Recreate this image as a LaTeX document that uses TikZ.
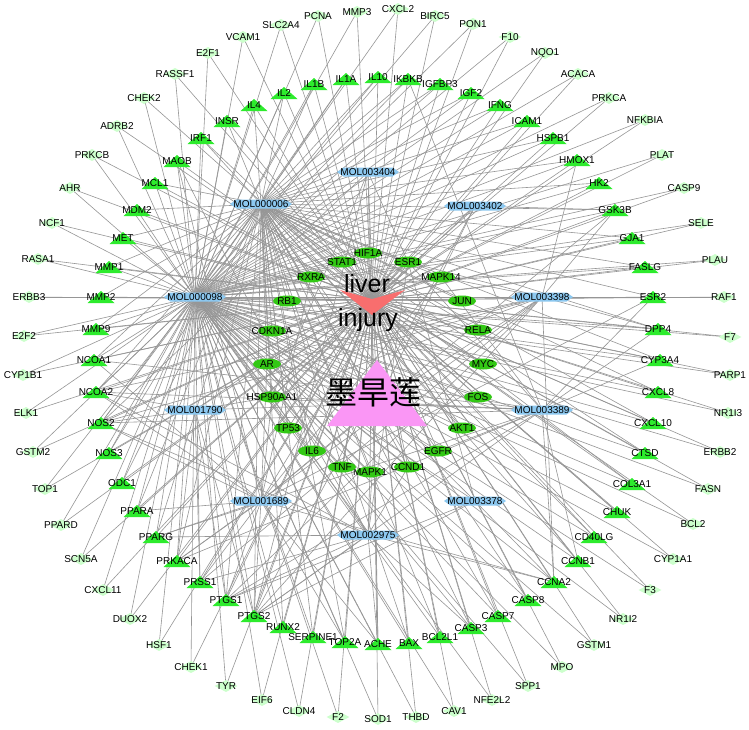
\documentclass[tikz,border=0pt]{standalone}
\usepackage{fontspec}
\setmainfont{Liberation Sans}
\newfontfamily\cjk{Noto Sans CJK SC}
\usetikzlibrary{shapes.geometric,shapes.symbols}
\definecolor{paleg}{RGB}{204,255,204}
\definecolor{trig}{RGB}{45,235,45}
\definecolor{ellg}{RGB}{50,200,20}
\definecolor{molb}{RGB}{140,200,240}
\definecolor{liverc}{RGB}{248,110,110}
\definecolor{herbc}{RGB}{250,150,245}
\definecolor{edgec}{RGB}{150,150,150}
\pgfdeclarelayer{bg}
\pgfsetlayers{bg,main}
\tikzset{
  lbl/.style={font=\fontsize{10}{12}\selectfont, text=black, inner sep=0pt},
  pale/.style={diamond, fill=paleg, minimum width=23pt, minimum height=12pt, inner sep=0pt, label={[lbl]center:#1}},
  tri/.style={rectangle, minimum width=27pt, minimum height=12pt, inner sep=0pt,
    path picture={\fill[trig] (path picture bounding box.south west) -- (path picture bounding box.south east) -- (path picture bounding box.north) -- cycle;},
    label={[lbl]center:#1}},
  ell/.style={ellipse, fill=ellg, minimum width=28pt, minimum height=11pt, inner sep=0pt, label={[lbl]center:#1}},
  mol/.style={signal, signal to=west and east, signal pointer angle=70, fill=molb, minimum width=62pt, minimum height=9pt, inner sep=0pt, label={[lbl]center:#1}},
  edge/.style={draw=edgec, line width=0.6pt},
  bigtxt/.style={font=\fontsize{25}{28}\selectfont, inner sep=0pt, text=black},
}
\begin{document}
\begin{tikzpicture}[x=1pt,y=-1pt]
\useasboundingbox (0,0) rectangle (749,729);
\begin{pgfonlayer}{bg}
\fill[white] (0,0) rectangle (749,729);
\end{pgfonlayer}
% outer pale nodes
\foreach \n/\x/\y in {MMP3/357/12,CXCL2/398/9,BIRC5/435/16,PON1/473/24,F10/510/37,NQO1/545/53,ACACA/578/74,PRKCA/609/98,NFKBIA/645/120,PLAT/662/155,CASP9/684/188,SELE/701/223,PLAU/715/260,RAF1/724/297,F7/730/337,PARP1/730/375,NR1I3/728/413,ERBB2/720/452,FASN/708/489,BCL2/693/524,CYP1A1/673/559,F3/650/590,NR1I2/623/619,GSTM1/594/645,MPO/562/667,SPP1/528/686,NFE2L2/492/700,CAV1/454/711,THBD/416/717,SOD1/378/719,F2/338/717,CLDN4/299/711,EIF6/262/700,TYR/226/686,CHEK1/191/667,HSF1/159/645,DUOX2/130/619,CXCL11/103/590,SCN5A/81/559,PPARD/61/525,TOP1/45/489,GSTM2/33/452,ELK1/26/413,CYP1B1/23/375,E2F2/24/336,ERBB3/29/297,RASA1/38/259,NCF1/52/223,AHR/70/188,PRKCB/92/155,ADRB2/117/126,CHEK2/144/98,RASSF1/175/74,E2F1/208/53,VCAM1/243/37,SLC2A4/281/25,PCNA/318/16}
  {\node[pale=\n] (\n) at (\x,\y) {};}
% triangles
\foreach \n/\x/\y in {IL1A/346/79,IL10/378/77,IKBKB/408/79,IGFBP3/440/84,IGF2/471/93,IFNG/500/105,ICAM1/527/121,HSPB1/553/138,HMOX1/577/160,HK2/599/183,GSK3B/615/210,GJA1/632/238,FASLG/645/267,ESR2/653/297,DPP4/658/329,CYP3A4/660/360,CXCL8/658/392,CXCL10/653/423,CTSD/645/453,COL3A1/632/484,CHUK/617/512,CD40LG/594/537,CCNB1/578/561,CCNA2/554/582,CASP8/528/600,CASP7/498/616,CASP3/471/628,BCL2L1/440/637,BAX/409/643,ACHE/378/644,TOP2A/345/642,SERPINE1/313/637,RUNX2/283/627,PTGS2/254/616,PTGS1/226/600,PRSS1/200/582,PRKACA/177/561,PPARG/156/537,PPARA/137/511,ODC1/122/483,NOS3/109/453,NOS2/101/423,NCOA2/96/392,NCOA1/94/360,MMP9/96/329,MMP2/101/297,MMP1/109/267,MET/123/238,MDM2/137/210,MCL1/155/183,MAOB/177/161,IRF1/201/138,INSR/227/121,IL4/254/105,IL2/284/93,IL1B/314/84}
  {\node[tri=\n] (\n) at (\x,\y) {};}
% ellipses
\foreach \n/\x/\y in {HIF1A/368/253,ESR1/408/262,MAPK14/441/277,JUN/462/301,RELA/478/330,MYC/483/364,FOS/478/397,AKT1/462/428,EGFR/438/451,CCND1/408/467,MAPK1/370/472,TNF/342/467,IL6/312/451,TP53/288/428,HSP90AA1/272/397,AR/267/364,CDKN1A/272/331,RB1/287/301,RXRA/311/277,STAT1/342/262}
  {\node[ell=\n] (\n) at (\x,\y) {};}
% molecules
\foreach \n/\x/\y in {MOL003404/368/172,MOL000006/261/204,MOL003402/475/206,MOL000098/195/297,MOL003398/542/297,MOL001790/195/410,MOL003389/542/410,MOL001689/261/501,MOL003378/475/501,MOL002975/368/535}
  {\node[mol=\n] (\n) at (\x,\y) {};}
% disease and herb
\coordinate (liver) at (372,300);
\fill[liverc] (340,290) -- (372,299) -- (405,290) -- (372,315) -- cycle;
\node[bigtxt] (livertxt) at (367,284) {liver};
\node[bigtxt] (injurytxt) at (368,320) {injury};
\coordinate (herb) at (377,404);
\fill[herbc] (377,360) -- (427,426) -- (327,426) -- cycle;
\node[inner sep=0pt, font=\cjk\fontsize{32}{34}\selectfont] (herbtxt) at (373,392) {墨旱莲};
% edges
\def\pales{MMP3,CXCL2,BIRC5,PON1,F10,NQO1,ACACA,PRKCA,NFKBIA,PLAT,CASP9,SELE,PLAU,RAF1,F7,PARP1,NR1I3,ERBB2,FASN,BCL2,CYP1A1,F3,NR1I2,GSTM1,MPO,SPP1,NFE2L2,CAV1,THBD,SOD1,F2,CLDN4,EIF6,TYR,CHEK1,HSF1,DUOX2,CXCL11,SCN5A,PPARD,TOP1,GSTM2,ELK1,CYP1B1,E2F2,ERBB3,RASA1,NCF1,AHR,PRKCB,ADRB2,CHEK2,RASSF1,E2F1,VCAM1,SLC2A4,PCNA}
\def\tris{IL1A,IL10,IKBKB,IGFBP3,IGF2,IFNG,ICAM1,HSPB1,HMOX1,HK2,GSK3B,GJA1,FASLG,ESR2,DPP4,CYP3A4,CXCL8,CXCL10,CTSD,COL3A1,CHUK,CD40LG,CCNB1,CCNA2,CASP8,CASP7,CASP3,BCL2L1,BAX,ACHE,TOP2A,SERPINE1,RUNX2,PTGS2,PTGS1,PRSS1,PRKACA,PPARG,PPARA,ODC1,NOS3,NOS2,NCOA2,NCOA1,MMP9,MMP2,MMP1,MET,MDM2,MCL1,MAOB,IRF1,INSR,IL4,IL2,IL1B}
\def\ells{HIF1A,ESR1,MAPK14,JUN,RELA,MYC,FOS,AKT1,EGFR,CCND1,MAPK1,TNF,IL6,TP53,HSP90AA1,AR,CDKN1A,RB1,RXRA,STAT1}
\begin{pgfonlayer}{bg}
\foreach \t in \pales {\draw[edge] (liver) -- (\t.center); \draw[edge] (MOL000098.center) -- (\t.center);}
\foreach \t in \tris {\draw[edge] (liver) -- (\t.center); \draw[edge] (MOL000098.center) -- (\t.center);}
\foreach \t in \ells {\draw[edge] (liver) -- (\t.center); \draw[edge] (MOL000098.center) -- (\t.center); \draw[edge] (MOL000006.center) -- (\t.center);}
\foreach \t in {IL1A,IL10,IKBKB,IGFBP3,IGF2,IFNG,ICAM1,HSPB1,HMOX1,HK2,GSK3B,GJA1,FASLG,ESR2,DPP4,CYP3A4,CXCL8,CXCL10,CTSD,COL3A1,CHUK,CD40LG,CCNB1,CASP8,CASP7,CASP3,BCL2L1,BAX,TOP2A,SERPINE1,RUNX2,PTGS2,PTGS1,PRKACA,PPARG,PPARA,ODC1,NOS3,NOS2,NCOA2,NCOA1,MMP9,MMP2,MMP1,MET,MDM2,MCL1,IRF1,INSR,IL4,IL2,IL1B}
  {\draw[edge] (MOL000006.center) -- (\t.center);}
\foreach \t in {GSK3B,ESR2,CCNA2,ACHE,TOP2A,PTGS2,PTGS1,PRSS1,PRKACA,PPARG,PPARA,NOS2,NCOA2,NCOA1,MAOB,ESR1,MAPK14,HSP90AA1,AR,RXRA}
  {\draw[edge] (MOL001689.center) -- (\t.center);}
\foreach \t in {CCNA2,CASP3,ACHE,PTGS2,PTGS1,PRSS1,PPARG,NOS2,NCOA2,MAOB,ESR1,CCND1,MAPK1,HSP90AA1,AR}
  {\draw[edge] (MOL002975.center) -- (\t.center);}
\foreach \t in {PTGS2,PTGS1,PRSS1,PRKACA,NOS2,NCOA2,ESR1,HSP90AA1,AR}
  {\draw[edge] (MOL001790.center) -- (\t.center);}
\foreach \t in {HMOX1,GSK3B,ESR2,DPP4,CCNA2,PTGS2,PTGS1,PRSS1,PRKACA,NOS2,NCOA2,ESR1,MAPK14,HSP90AA1,AR}
  {\draw[edge] (MOL003398.center) -- (\t.center);}
\foreach \t in {IKBKB,ESR2,DPP4,CYP3A4,CCNB1,CCNA2,PTGS2,PTGS1,PRKACA,PPARG,NOS2,NCOA2,NCOA1,ESR1,MAPK14,EGFR,HSP90AA1,AR}
  {\draw[edge] (MOL003389.center) -- (\t.center);}
\foreach \t in {ACHE,PTGS2,NOS2,ESR1,HSP90AA1}
  {\draw[edge] (MOL003404.center) -- (\t.center);}
\foreach \t in {GSK3B,PTGS2,ESR1,HSP90AA1}
  {\draw[edge] (MOL003402.center) -- (\t.center);}
\foreach \t in {CCNA2,PTGS2,PTGS1,ESR1,AR}
  {\draw[edge] (MOL003378.center) -- (\t.center);}
\foreach \m in {MOL003404,MOL000006,MOL003402,MOL000098,MOL003398,MOL001790,MOL003389,MOL001689,MOL003378,MOL002975}
  {\draw[edge] (herb) -- (\m.center);}
\end{pgfonlayer}
\end{tikzpicture}
\end{document}
